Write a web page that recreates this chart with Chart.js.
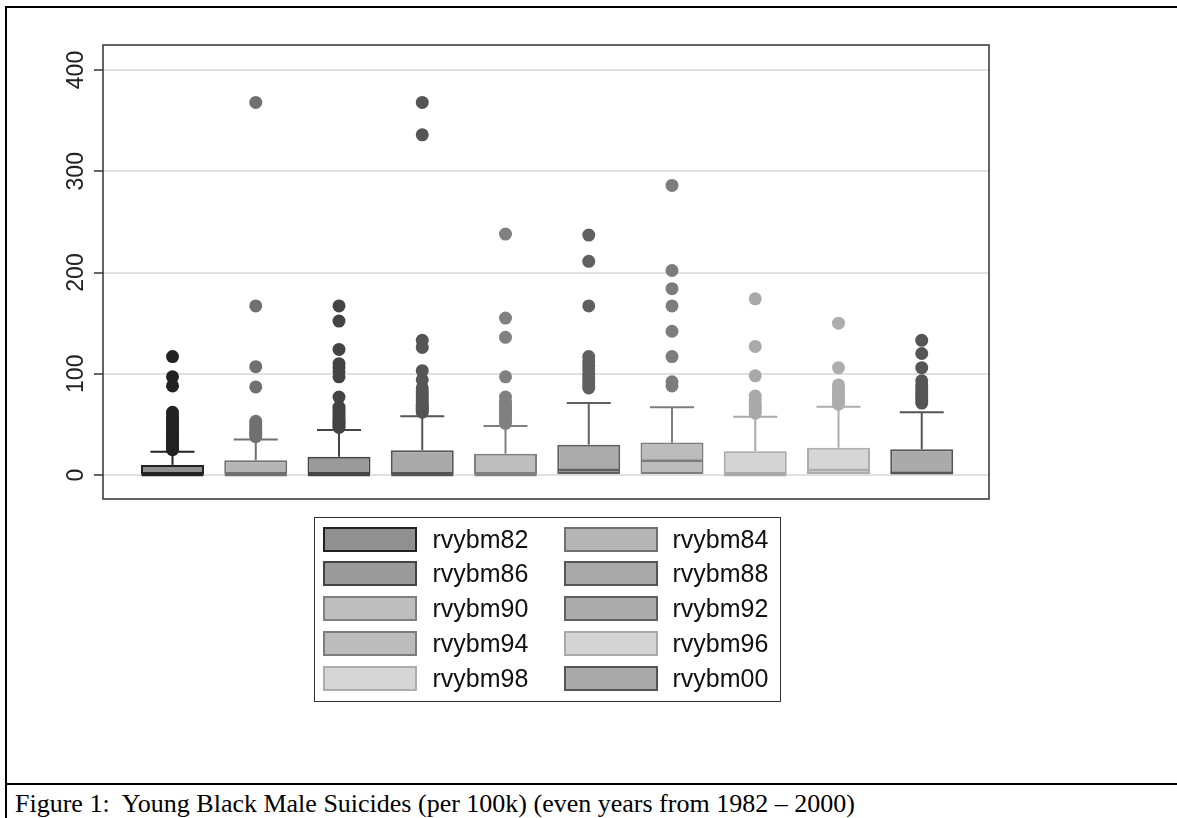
<!DOCTYPE html>
<html>
<head>
<meta charset="utf-8">
<script src="https://cdn.jsdelivr.net/npm/chart.js@4.4.1/dist/chart.umd.min.js"></script>
<style>
  html, body { margin: 0; padding: 0; background: #fff; overflow: hidden; }
  body { width: 1177px; height: 818px; position: relative; }
  .rule { position: absolute; background: #000; }
  #c { position: absolute; left: 0; top: 0; }
  #legend { position: absolute; left: 314px; top: 517px; width: 467px; height: 185px;
            box-sizing: border-box; border: 1.5px solid #333; }
  .sw { position: absolute; width: 94px; height: 25px; box-sizing: border-box; border: 2px solid; }
  .lab { position: absolute; font: 25px "Liberation Sans", Arial, sans-serif; color: #111; line-height: 25px; }
  #caption { position: absolute; left: 15px; top: 789px; font: 26px "Liberation Serif", "Times New Roman", serif;
             line-height: 30px; white-space: nowrap; color: #000; }
</style>
</head>
<body>
<div class="rule" style="left:5px; top:6px; width:1172px; height:2px"></div>
<div class="rule" style="left:5px; top:6px; width:2px; height:812px"></div>
<div class="rule" style="left:5px; top:783px; width:1172px; height:2px"></div>
<canvas id="c" width="1177" height="784"></canvas>
<div id="legend"></div>
<div id="caption">Figure 1:&nbsp; Young Black Male Suicides (per 100k) (even years from 1982 – 2000)</div>
<script>
// box plot summaries, one entry per year
const years = ["rvybm82", "rvybm84", "rvybm86", "rvybm88", "rvybm90",
               "rvybm92", "rvybm94", "rvybm96", "rvybm98", "rvybm00"];
const lowerQuartile = [0, 0, 0, 0, 0, 0, 0, 0, 0, 0];
const medians       = [0, 0, 0, 0, 0, 5, 14, 0, 5, 2];
const upperQuartile = [10, 14.5, 18, 24.5, 21, 30, 32, 23.5, 27, 25.5];
const upperWhisker  = [23, 35, 44.5, 58, 48.5, 71, 67, 57.5, 67.5, 62];
const outliers = [
  [25, 27, 29, 31, 33, 35, 37, 39, 41, 43, 46, 49, 52, 55, 58, 62, 88, 97, 117],
  [38, 40, 42, 44, 47, 50, 53, 87, 107, 167, 368],
  [47, 49, 51, 53, 55, 58, 61, 64, 67, 77, 97, 102, 106, 110, 124, 152, 167],
  [62, 64, 66, 68, 70, 73, 76, 79, 82, 86, 94, 103, 126, 133, 336, 368],
  [51, 54, 57, 60, 63, 66, 69, 72, 77, 97, 136, 155, 238],
  [86, 88, 91, 94, 97, 100, 104, 108, 112, 117, 167, 211, 237],
  [88, 92, 117, 142, 167, 184, 202, 286],
  [61, 64, 67, 70, 74, 78, 98, 127, 174],
  [70, 73, 76, 79, 82, 86, 89, 106, 150],
  [71, 74, 77, 80, 83, 86, 89, 93, 106, 120, 133]
];
const yTicks = [0, 100, 200, 300, 400];

// greys per year
const fills = ["#909090", "#b5b5b5", "#9a9a9a", "#a9a9a9", "#bebebe",
               "#ababab", "#bcbcbc", "#d4d4d4", "#d6d6d6", "#aaaaaa"];
const lines = ["#222222", "#707070", "#444444", "#555555", "#808080",
               "#606060", "#7c7c7c", "#a9a9a9", "#adadad", "#555555"];

const at = (arr) => arr.map((v, i) => ({ x: i + 1, y: v }));

const datasets = [];

// outlying points
years.forEach((name, i) => {
  datasets.push({
    type: "scatter",
    order: 1,
    data: outliers[i].map(v => ({ x: i + 1, y: v })),
    pointRadius: 6.5,
    pointBackgroundColor: lines[i],
    pointBorderWidth: 0
  });
});

// whisker caps and medians
datasets.push({
  type: "scatter", order: 2, data: at(upperWhisker),
  pointStyle: "line", pointRadius: 22, pointBorderWidth: 2, pointBorderColor: lines
});
datasets.push({
  type: "scatter", order: 2, data: at(medians),
  pointStyle: "line", pointRadius: 31, pointBorderWidth: 2.5, pointBorderColor: lines
});

// whisker stems
datasets.push({
  type: "bar", order: 3, grouped: false,
  data: upperQuartile.map((v, i) => ({ x: i + 1, y: [v, upperWhisker[i]] })),
  backgroundColor: lines, borderWidth: 0, inflateAmount: 0,
  barThickness: 2, maxBarThickness: 2
});

// boxes
datasets.push({
  type: "bar", order: 4, grouped: false,
  data: upperQuartile.map((v, i) => ({ x: i + 1, y: [lowerQuartile[i], v] })),
  backgroundColor: fills, borderColor: lines, borderWidth: 2, borderSkipped: false,
  inflateAmount: 0, barThickness: 63, maxBarThickness: 63
});

const plotFrame = {
  id: "plotFrame",
  beforeDatasetsDraw(chart) {
    const { ctx, chartArea: a } = chart;
    ctx.save();
    ctx.strokeStyle = "#333";
    ctx.lineWidth = 1.5;
    ctx.strokeRect(a.left, a.top, a.right - a.left, a.bottom - a.top);
    ctx.restore();
  }
};

new Chart(document.getElementById("c"), {
  type: "bar",
  data: { datasets },
  plugins: [plotFrame],
  options: {
    responsive: false,
    animation: false,
    events: [],
    layout: { padding: { left: 43, top: 45, right: 188, bottom: 285 } },
    plugins: { legend: { display: false }, tooltip: { enabled: false } },
    scales: {
      x: { type: "linear", min: 0.165, max: 10.808, offset: false, display: false },
      y: {
        type: "linear",
        min: -23.7,
        max: 424.7,
        afterFit: s => { s.width = 60; },
        afterBuildTicks: s => { s.ticks = yTicks.map(v => ({ value: v })); },
        border: { display: false },
        grid: { color: "#e0e0e0", lineWidth: 2, tickColor: "#333", tickLength: 9, tickWidth: 1.5 },
        ticks: {
          minRotation: 90, maxRotation: 90, crossAlign: "center", padding: -2,
          color: "#222",
          font: { family: "'Liberation Sans', Arial, sans-serif", size: 23 }
        }
      }
    }
  }
});

// legend: two columns, row-major
const legend = document.getElementById("legend");
years.forEach((name, i) => {
  const col = i % 2, row = Math.floor(i / 2);
  const top = 8.5 + row * 34.75;
  const sw = document.createElement("div");
  sw.className = "sw";
  sw.style.left = (7.5 + col * 241) + "px";
  sw.style.top = top + "px";
  sw.style.background = fills[i];
  sw.style.borderColor = lines[i];
  legend.appendChild(sw);
  const lab = document.createElement("div");
  lab.className = "lab";
  lab.style.left = (117.5 + col * 240) + "px";
  lab.style.top = top + "px";
  lab.textContent = name;
  legend.appendChild(lab);
});
</script>
</body>
</html>
